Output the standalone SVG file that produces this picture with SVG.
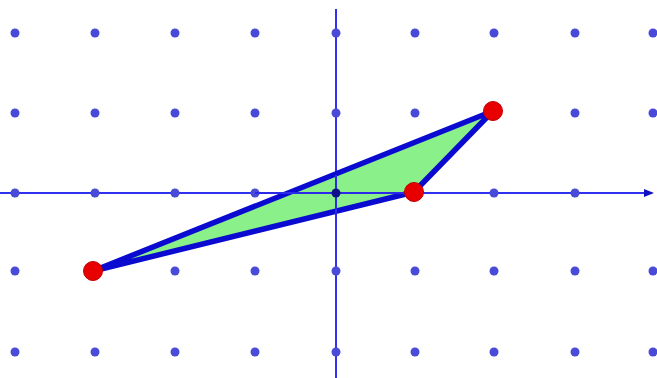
<svg xmlns="http://www.w3.org/2000/svg" width="657" height="378" viewBox="0 0 657 378">
<defs>
<style>
.dot{fill:#4a4ad8}
.axis{stroke:#3030f0;stroke-width:2;fill:none}
.pt{fill:#e80000;stroke:#c00000;stroke-width:1}
</style>
<marker id="arr" markerWidth="5" markerHeight="4" refX="4" refY="2" orient="auto" markerUnits="strokeWidth">
<path d="M0,0 L5,2 L0,4 Z" fill="#1010c0"/>
</marker>
</defs>
<rect width="657" height="378" fill="#ffffff"/>
<g id="axes">
<line class="axis" x1="336" y1="9" x2="336" y2="378"/>
<line class="axis" x1="0" y1="193" x2="652" y2="193" marker-end="url(#arr)"/>
</g>
<g id="grid">
<circle class="dot" cx="15" cy="33" r="4.5"/><circle class="dot" cx="95" cy="33" r="4.5"/><circle class="dot" cx="175" cy="33" r="4.5"/><circle class="dot" cx="255" cy="33" r="4.5"/><circle class="dot" cx="336" cy="33" r="4.5"/><circle class="dot" cx="415" cy="33" r="4.5"/><circle class="dot" cx="494" cy="33" r="4.5"/><circle class="dot" cx="575" cy="33" r="4.5"/><circle class="dot" cx="653" cy="33" r="4.5"/>
<circle class="dot" cx="15" cy="113" r="4.5"/><circle class="dot" cx="95" cy="113" r="4.5"/><circle class="dot" cx="175" cy="113" r="4.5"/><circle class="dot" cx="255" cy="113" r="4.5"/><circle class="dot" cx="336" cy="113" r="4.5"/><circle class="dot" cx="415" cy="113" r="4.5"/><circle class="dot" cx="575" cy="113" r="4.5"/><circle class="dot" cx="653" cy="113" r="4.5"/>
<circle class="dot" cx="15" cy="193" r="4.5"/><circle class="dot" cx="95" cy="193" r="4.5"/><circle class="dot" cx="175" cy="193" r="4.5"/><circle class="dot" cx="255" cy="193" r="4.5"/><circle class="dot" cx="494" cy="193" r="4.5"/><circle class="dot" cx="575" cy="193" r="4.5"/>
<circle class="dot" cx="15" cy="271" r="4.5"/><circle class="dot" cx="175" cy="271" r="4.5"/><circle class="dot" cx="255" cy="271" r="4.5"/><circle class="dot" cx="336" cy="271" r="4.5"/><circle class="dot" cx="415" cy="271" r="4.5"/><circle class="dot" cx="494" cy="271" r="4.5"/><circle class="dot" cx="575" cy="271" r="4.5"/><circle class="dot" cx="653" cy="271" r="4.5"/>
<circle class="dot" cx="15" cy="352" r="4.5"/><circle class="dot" cx="95" cy="352" r="4.5"/><circle class="dot" cx="175" cy="352" r="4.5"/><circle class="dot" cx="255" cy="352" r="4.5"/><circle class="dot" cx="336" cy="352" r="4.5"/><circle class="dot" cx="415" cy="352" r="4.5"/><circle class="dot" cx="494" cy="352" r="4.5"/><circle class="dot" cx="575" cy="352" r="4.5"/><circle class="dot" cx="653" cy="352" r="4.5"/>
</g>
<g id="triangle">
<polygon points="93,271 493,111 414,192" fill="#8af08a" stroke="#0a0ad0" stroke-width="5.5" stroke-linejoin="round"/>
<line x1="255" y1="193" x2="414" y2="193" stroke="#2a2ae8" stroke-width="2"/>
<line x1="336" y1="175" x2="336" y2="215" stroke="#2a2ae8" stroke-width="2"/>
<circle cx="336" cy="193" r="4.5" fill="#10108a"/>
</g>
<g id="points">
<circle id="A" class="pt" cx="93" cy="271" r="9.5"/>
<circle id="B" class="pt" cx="414" cy="192" r="9.5"/>
<circle id="C" class="pt" cx="493" cy="111" r="9.5"/>
</g>
</svg>
